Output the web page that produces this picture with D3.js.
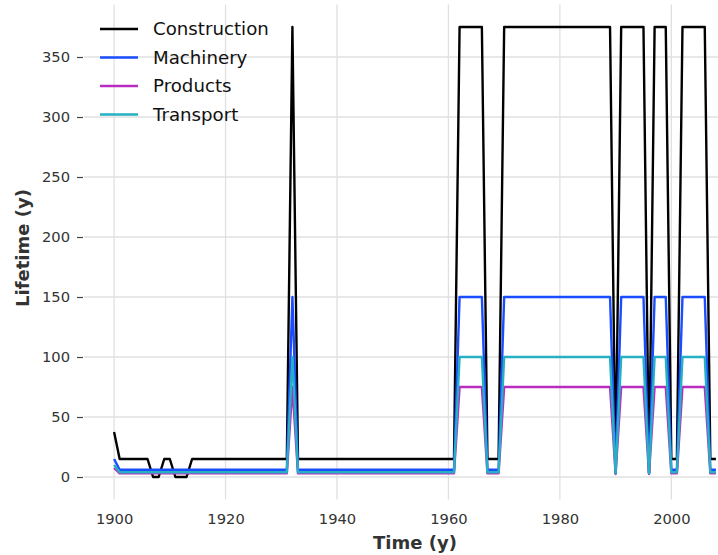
<!DOCTYPE html>
<html>
<head>
<meta charset="utf-8">
<script src="https://cdn.jsdelivr.net/npm/d3@7"></script>
<style>
    body { margin: 0; background: #fff; }
    svg { display: block; font-family: "DejaVu Sans", sans-serif; }
</style>
</head>
<body>
<svg id="chart" width="718" height="555"></svg>
<script>
// one value per year, 1900 .. 2008
const years = d3.range(1900, 2009);

const construction = [
    37.5, 15, 15, 15, 15, 15, 15, 0, 0, 15,
    15, 0, 0, 0, 15, 15, 15, 15, 15, 15,
    15, 15, 15, 15, 15, 15, 15, 15, 15, 15,
    15, 15, 375, 15, 15, 15, 15, 15, 15, 15,
    15, 15, 15, 15, 15, 15, 15, 15, 15, 15,
    15, 15, 15, 15, 15, 15, 15, 15, 15, 15,
    15, 15, 375, 375, 375, 375, 375, 15, 15, 15,
    375, 375, 375, 375, 375, 375, 375, 375, 375, 375,
    375, 375, 375, 375, 375, 375, 375, 375, 375, 375,
    3.5, 375, 375, 375, 375, 375, 3.5, 375, 375, 375,
    15, 15, 375, 375, 375, 375, 375, 15, 15
];

const machinery = [
    15, 6, 6, 6, 6, 6, 6, 6, 6, 6,
    6, 6, 6, 6, 6, 6, 6, 6, 6, 6,
    6, 6, 6, 6, 6, 6, 6, 6, 6, 6,
    6, 6, 150, 6, 6, 6, 6, 6, 6, 6,
    6, 6, 6, 6, 6, 6, 6, 6, 6, 6,
    6, 6, 6, 6, 6, 6, 6, 6, 6, 6,
    6, 6, 150, 150, 150, 150, 150, 6, 6, 6,
    150, 150, 150, 150, 150, 150, 150, 150, 150, 150,
    150, 150, 150, 150, 150, 150, 150, 150, 150, 150,
    3, 150, 150, 150, 150, 150, 3, 150, 150, 150,
    6, 6, 150, 150, 150, 150, 150, 6, 6
];

const products = [
    7.5, 3, 3, 3, 3, 3, 3, 3, 3, 3,
    3, 3, 3, 3, 3, 3, 3, 3, 3, 3,
    3, 3, 3, 3, 3, 3, 3, 3, 3, 3,
    3, 3, 75, 3, 3, 3, 3, 3, 3, 3,
    3, 3, 3, 3, 3, 3, 3, 3, 3, 3,
    3, 3, 3, 3, 3, 3, 3, 3, 3, 3,
    3, 3, 75, 75, 75, 75, 75, 3, 3, 3,
    75, 75, 75, 75, 75, 75, 75, 75, 75, 75,
    75, 75, 75, 75, 75, 75, 75, 75, 75, 75,
    2.5, 75, 75, 75, 75, 75, 2.5, 75, 75, 75,
    3, 3, 75, 75, 75, 75, 75, 3, 3
];

const transport = [
    10, 4, 4, 4, 4, 4, 4, 4, 4, 4,
    4, 4, 4, 4, 4, 4, 4, 4, 4, 4,
    4, 4, 4, 4, 4, 4, 4, 4, 4, 4,
    4, 4, 100, 4, 4, 4, 4, 4, 4, 4,
    4, 4, 4, 4, 4, 4, 4, 4, 4, 4,
    4, 4, 4, 4, 4, 4, 4, 4, 4, 4,
    4, 4, 100, 100, 100, 100, 100, 4, 4, 4,
    100, 100, 100, 100, 100, 100, 100, 100, 100, 100,
    100, 100, 100, 100, 100, 100, 100, 100, 100, 100,
    3, 100, 100, 100, 100, 100, 3, 100, 100, 100,
    4, 4, 100, 100, 100, 100, 100, 4, 4
];

const seriesNames = ["Construction", "Machinery", "Products", "Transport"];
const seriesColors = ["#000000", "#1a4dff", "#b82cc0", "#25b0c4"];
const xTicks = [1900, 1920, 1940, 1960, 1980, 2000];
const yTicks = [0, 50, 100, 150, 200, 250, 300, 350];

const series = [construction, machinery, products, transport].map((vals, i) => ({
    name: seriesNames[i],
    color: seriesColors[i],
    points: years.map((yr, j) => ({ year: yr, value: vals[j] }))
}));

const svg = d3.select("#chart");

// plot box runs past the right edge of the picture (cropped like the original)
const plotLeft = 84, plotRight = 746, plotTop = 4.5, plotBottom = 499.5;

const x = d3.scaleLinear().domain([1894.6, 2013.4]).range([plotLeft, plotRight]);
const y = d3.scaleLinear().domain([-18.75, 393.75]).range([plotBottom, plotTop]);

// grid
svg.append("g")
    .selectAll("line")
    .data(xTicks)
    .join("line")
    .attr("x1", d => x(d)).attr("x2", d => x(d))
    .attr("y1", plotTop).attr("y2", plotBottom)
    .attr("stroke", "#e0e0e0").attr("stroke-width", 1.3);

svg.append("g")
    .selectAll("line")
    .data(yTicks)
    .join("line")
    .attr("x1", plotLeft).attr("x2", plotRight)
    .attr("y1", d => y(d)).attr("y2", d => y(d))
    .attr("stroke", "#e0e0e0").attr("stroke-width", 1.3);

// axes
let yAxis = svg.append("g")
    .attr("transform", `translate(${plotLeft - 1},0)`)
    .call(d3.axisLeft(y).tickValues(yTicks).tickSize(6).tickPadding(7));
yAxis.select(".domain").remove();
yAxis.selectAll("line").attr("stroke", "#444").attr("stroke-width", 1.2);
yAxis.selectAll("text")
    .attr("fill", "#333")
    .style("font-size", "14.7px")
    .style("font-family", "DejaVu Sans");

let xAxis = svg.append("g")
    .attr("transform", `translate(0,${plotBottom})`)
    .call(d3.axisBottom(x).tickValues(xTicks).tickFormat(d3.format("d")).tickSize(0).tickPadding(14));
xAxis.select(".domain").remove();
xAxis.selectAll("text")
    .attr("fill", "#333")
    .style("font-size", "14.7px")
    .style("font-family", "DejaVu Sans");

svg.append("text")
    .attr("x", 415).attr("y", 549)
    .attr("text-anchor", "middle")
    .attr("fill", "#333")
    .style("font-size", "18px")
    .style("font-weight", "bold")
    .text("Time (y)");

svg.append("text")
    .attr("transform", "translate(29,248) rotate(-90)")
    .attr("text-anchor", "middle")
    .attr("fill", "#333")
    .style("font-size", "18px")
    .style("font-weight", "bold")
    .text("Lifetime (y)");

// lines
const line = d3.line()
    .x(d => x(d.year))
    .y(d => y(d.value));

svg.append("g")
    .selectAll("path")
    .data(series)
    .join("path")
    .attr("d", d => line(d.points))
    .attr("fill", "none")
    .attr("stroke", d => d.color)
    .attr("stroke-width", 2.4)
    .attr("stroke-linejoin", "round");

// legend
let legend = svg.append("g")
    .selectAll("g")
    .data(series)
    .join("g")
    .attr("transform", (d, i) => `translate(100,${29 + i * 28.5})`);

legend.append("line")
    .attr("x1", 0).attr("x2", 38)
    .attr("stroke", d => d.color)
    .attr("stroke-width", 2.4);

legend.append("text")
    .attr("x", 53).attr("y", 0)
    .attr("dy", "0.35em")
    .attr("fill", "#111")
    .style("font-size", "18.2px")
    .text(d => d.name);
</script>
</body>
</html>
